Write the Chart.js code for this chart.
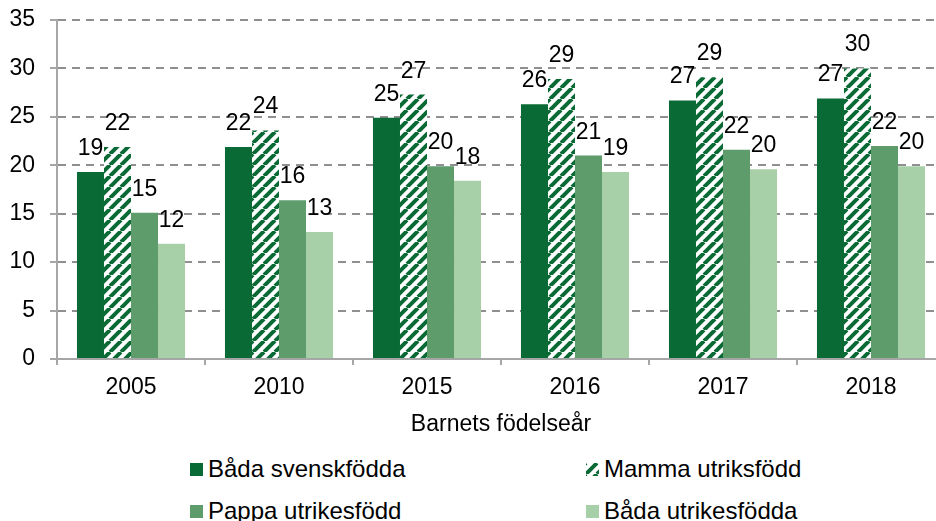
<!DOCTYPE html>
<html>
<head>
<meta charset="utf-8">
<script src="https://cdn.jsdelivr.net/npm/chart.js@4/dist/chart.umd.min.js"></script>
<style>
  body { margin: 0; width: 936px; height: 521px; overflow: hidden; background: #fff; font-family: "Liberation Sans", Arial, sans-serif; }
  #wrap { position: relative; width: 936px; height: 521px; }
  #chart { position: absolute; left: 0; top: 0; }
  .item { position: absolute; height: 26px; line-height: 26px; font-size: 24px; color: #000; white-space: nowrap; }
  .item canvas { position: absolute; left: 0; top: 7px; }
  .item span { position: absolute; left: 18px; top: 0; }
</style>
</head>
<body>
<div id="wrap">
  <canvas id="chart" width="950" height="445"></canvas>
  <div id="legend"></div>
</div>
<script>
const years = ['2005', '2010', '2015', '2016', '2017', '2018'];
const seriesNames = ['Båda svenskfödda', 'Mamma utriksfödd', 'Pappa utrikesfödd', 'Båda utrikesfödda'];
const bothSwedish = [19.3, 21.9, 24.9, 26.3, 26.7, 26.9];
const motherForeign = [21.9, 23.6, 27.3, 28.9, 29.1, 30.0];
const fatherForeign = [15.1, 16.4, 19.9, 21.0, 21.6, 22.0];
const bothForeign = [11.9, 13.1, 18.4, 19.3, 19.6, 19.9];
const yTicks = [0, 5, 10, 15, 20, 25, 30, 35];

const FONT = '"Liberation Sans", Arial, sans-serif';
const dark = '#0A6A35';
const mid = '#5E9C6C';
const light = '#A8D0A8';
const axisGray = '#A6A6A6';

function makeHatch(color) {
  const s = 11;
  const c = document.createElement('canvas');
  c.width = s; c.height = s;
  const g = c.getContext('2d');
  g.fillStyle = '#fff';
  g.fillRect(0, 0, s, s);
  g.strokeStyle = color;
  g.lineWidth = 4;
  g.beginPath();
  for (const k of [-s, 0, s]) { g.moveTo(k, s); g.lineTo(k + s, 0); }
  g.stroke();
  return g.createPattern(c, 'repeat');
}

const hatch = makeHatch(dark);
const fills = [dark, hatch, mid, light];
const seriesData = [bothSwedish, motherForeign, fatherForeign, bothForeign];

// value labels drawn above each bar
const valueLabels = {
  id: 'valueLabels',
  afterDatasetsDraw(chart) {
    const ctx = chart.ctx;
    ctx.save();
    ctx.font = '23px ' + FONT;
    ctx.fillStyle = '#000';
    ctx.textAlign = 'center';
    ctx.textBaseline = 'alphabetic';
    chart.data.datasets.forEach((ds, i) => {
      chart.getDatasetMeta(i).data.forEach((bar, j) => {
        ctx.fillText(Math.round(ds.data[j]), bar.x, bar.y - 17);
      });
    });
    ctx.restore();
  }
};

Chart.defaults.font.family = FONT;

new Chart(document.getElementById('chart').getContext('2d'), {
  type: 'bar',
  data: {
    labels: years,
    datasets: seriesNames.map((name, i) => ({
      label: name,
      data: seriesData[i],
      backgroundColor: fills[i],
      borderWidth: 0,
      categoryPercentage: 0.73,
      barPercentage: 1.0
    }))
  },
  options: {
    responsive: false,
    animation: false,
    devicePixelRatio: 1,
    layout: { padding: { top: 20, right: 5, bottom: 0, left: 0 } },
    plugins: { legend: { display: false }, tooltip: { enabled: false } },
    scales: {
      x: {
        offset: true,
        grid: { offset: true, drawOnChartArea: false, drawTicks: true, tickLength: 6, color: axisGray, lineWidth: 2 },
        border: { color: axisGray, width: 2 },
        ticks: { color: '#000', font: { size: 23 }, padding: 9 },
        title: { display: true, text: 'Barnets födelseår', color: '#000', font: { size: 23 }, padding: { top: 4, bottom: 7 } },
        afterFit(s) { s.height = 86; }
      },
      y: {
        min: 0,
        max: 35,
        afterBuildTicks(s) { s.ticks = yTicks.map(v => ({ value: v })); },
        ticks: { color: '#000', font: { size: 23 }, padding: 15 },
        grid: { color: '#8F8F8F', lineWidth: 2, tickLength: 7, tickColor: axisGray, tickWidth: 2 },
        border: { color: axisGray, width: 2, dash: [8, 6] },
        afterFit(s) {
          s.width = 57;
          s.paddingTop = 0;
          s.paddingBottom = 0;
        }
      }
    }
  },
  plugins: [valueLabels]
});

// legend, two columns
const legend = document.getElementById('legend');
const cols = [190, 586];
const rows = [456, 498];
seriesNames.forEach((name, i) => {
  const item = document.createElement('div');
  item.className = 'item';
  item.style.left = cols[i % 2] + 'px';
  item.style.top = rows[Math.floor(i / 2)] + 'px';
  const sw = document.createElement('canvas');
  sw.width = 13; sw.height = 13;
  const g = sw.getContext('2d');
  g.fillStyle = fills[i];
  g.fillRect(0, 0, 13, 13);
  const span = document.createElement('span');
  span.textContent = name;
  item.appendChild(sw);
  item.appendChild(span);
  legend.appendChild(item);
});
</script>
</body>
</html>
